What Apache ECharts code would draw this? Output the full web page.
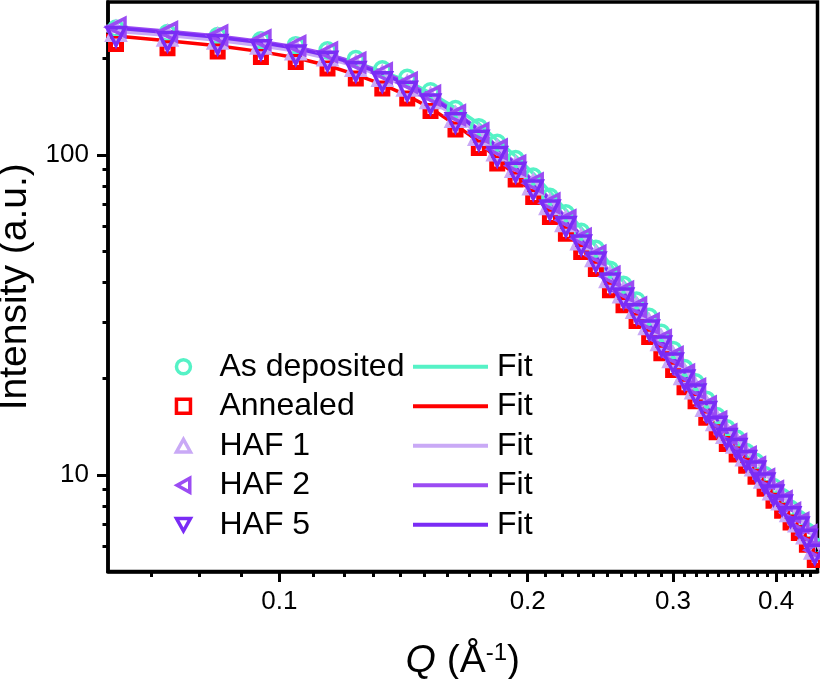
<!DOCTYPE html>
<html><head><meta charset="utf-8">
<script src="https://cdn.jsdelivr.net/npm/echarts@6/dist/echarts.min.js"></script>
<style>html,body{margin:0;padding:0;background:#fff}#c{width:820px;height:679px}</style>
</head><body><div id="c"></div><script>
// ---- data ----
const q = [0.0634, 0.0732, 0.0842, 0.0950, 0.1047, 0.1144, 0.1238, 0.1333, 0.1429, 0.1525,
  0.1635, 0.1745, 0.1837, 0.1934, 0.2031, 0.2128, 0.2225, 0.2322, 0.2419, 0.2516,
  0.2613, 0.2710, 0.2807, 0.2904, 0.3001, 0.3098, 0.3195, 0.3292, 0.3389, 0.3486,
  0.3583, 0.3680, 0.3777, 0.3874, 0.3971, 0.4068, 0.4165, 0.4262, 0.4359, 0.4456];
const asDeposited = [248, 240, 235, 228, 220, 212, 199, 185, 174, 158, 139, 122, 109, 97.0, 85.5, 74.0, 65.7, 57.5, 50.9, 43.8,
  39.3, 35.1, 31.2, 27.8, 24.6, 21.6, 19.5, 17.2, 15.3, 14.0, 13.0, 11.8, 11.0, 10.0, 9.18, 8.54, 7.85, 7.29, 6.68, 5.99];
const annealed = [222, 215, 210, 202, 195, 186, 173, 161, 150, 137, 120, 105, 93.9, 83.8, 73.8, 63.9, 56.7, 49.7, 44.0, 37.8,
  33.9, 30.3, 27.0, 24.0, 21.3, 18.8, 17.0, 15.1, 13.6, 12.5, 11.6, 10.7, 9.89, 9.06, 8.31, 7.74, 7.11, 6.60, 6.06, 5.43];
const haf1 = [243, 235, 230, 222, 213, 204, 189, 176, 164, 150, 131, 115, 103, 91.5, 80.7, 69.9, 61.9, 54.3, 48.1, 41.4,
  37.1, 33.2, 29.5, 26.3, 23.3, 20.6, 18.6, 16.4, 14.8, 13.5, 12.6, 11.5, 10.7, 9.80, 9.00, 8.38, 7.70, 7.15, 6.56, 5.88];
const haf2 = [250, 242, 236, 228, 219, 209, 194, 180, 168, 153, 133, 117, 104, 92.5, 81.5, 70.6, 62.5, 54.8, 48.5, 41.7,
  37.4, 33.4, 29.7, 26.4, 23.4, 20.6, 18.6, 16.4, 14.7, 13.4, 12.5, 11.4, 10.6, 9.72, 8.92, 8.30, 7.63, 7.09, 6.50, 5.83];
const haf5 = [234, 226, 221, 213, 205, 196, 182, 169, 158, 144, 126, 111, 98.8, 88.2, 77.7, 67.3, 59.7, 52.3, 46.3, 39.8,
  35.7, 31.9, 28.4, 25.3, 22.4, 19.8, 17.9, 15.8, 14.2, 13.0, 12.1, 11.1, 10.3, 9.44, 8.66, 8.06, 7.41, 6.88, 6.31, 5.66];

const fitQ = [0.0600, 0.0634, 0.0732, 0.0842, 0.0950, 0.1047, 0.1144, 0.1238, 0.1333, 0.1429, 0.1525,
  0.1635, 0.1745, 0.1837, 0.1934, 0.2031, 0.2128, 0.2225, 0.2322, 0.2419, 0.2516,
  0.2613, 0.2710, 0.2807, 0.2904, 0.3001, 0.3098, 0.3195, 0.3292, 0.3389, 0.3486,
  0.3583, 0.3680, 0.3777, 0.3874, 0.3971, 0.4068, 0.4165, 0.4262, 0.4359, 0.4456];
const fitAsDeposited = [249, 246, 239, 231, 223, 215, 205, 194, 182, 170, 156, 140, 125, 111, 99.0, 87.4, 76.6, 67.2, 59.0, 51.9,
  45.6, 40.2, 35.6, 31.4, 27.9, 24.8, 22.0, 19.6, 17.5, 15.7, 14.0, 12.7, 11.5, 10.5, 9.60, 8.80, 8.10, 7.45, 6.88, 6.37, 5.91];
const fitAnnealed = [237, 235, 227, 219, 210, 201, 190, 178, 166, 153, 140, 124, 110, 97.0, 86.0, 75.7, 66.3, 58.2, 51.1, 44.9,
  39.5, 34.8, 30.8, 27.4, 24.3, 21.7, 19.4, 17.4, 15.6, 14.1, 12.6, 11.5, 10.5, 9.62, 8.83, 8.11, 7.47, 6.89, 6.36, 5.89, 5.46];
const fitHaf1 = [245, 243, 236, 228, 219, 211, 200, 189, 176, 163, 148, 132, 116, 103, 91.3, 80.3, 70.5, 61.8, 54.3, 47.7,
  41.9, 37.0, 32.8, 29.0, 25.9, 23.1, 20.6, 18.4, 16.6, 14.9, 13.4, 12.2, 11.2, 10.2, 9.37, 8.61, 7.93, 7.31, 6.76, 6.25, 5.80];
const fitHaf2 = [253, 251, 243, 235, 226, 217, 206, 194, 181, 168, 153, 136, 120, 106, 93.9, 82.7, 72.5, 63.6, 55.8, 49.0,
  43.0, 37.9, 33.5, 29.7, 26.4, 23.5, 21.0, 18.8, 16.9, 15.2, 13.6, 12.4, 11.3, 10.3, 9.44, 8.66, 7.96, 7.33, 6.77, 6.26, 5.80];
const fitHaf5 = [251, 249, 241, 233, 224, 215, 204, 192, 179, 166, 151, 135, 119, 105, 93.0, 81.9, 71.8, 63.0, 55.3, 48.5,
  42.6, 37.5, 33.2, 29.4, 26.1, 23.3, 20.8, 18.6, 16.7, 15.0, 13.5, 12.3, 11.2, 10.2, 9.35, 8.58, 7.89, 7.26, 6.70, 6.20, 5.74];

const xMajorTicks = [0.1, 0.2, 0.3, 0.4];
const xMinorTicks = [0.07, 0.08, 0.09, 0.11, 0.12, 0.13, 0.14, 0.15, 0.16, 0.17, 0.18, 0.19,
  0.21, 0.22, 0.23, 0.24, 0.25, 0.26, 0.27, 0.28, 0.29, 0.31, 0.32, 0.33, 0.34, 0.35, 0.36, 0.37, 0.38, 0.39,
  0.41, 0.42, 0.43, 0.44];
const yMajorTicks = [10, 100];
const yMinorTicks = [6, 7, 8, 9, 20, 30, 40, 50, 60, 70, 80, 90, 200];

const dataNames = ['As deposited', 'Annealed', 'HAF 1', 'HAF 2', 'HAF 5'];
const fitNames = ['Fit', 'Fit ', 'Fit  ', 'Fit   ', 'Fit    '];

// ---- styling ----
const FONT = 'Liberation Sans, Arial, sans-serif';
const C_GREEN = '#55F2C6', C_RED = '#FF0000', C_L1 = '#C9A9F6', C_L2 = '#9B4CF3', C_L5 = '#7A2CF5';
const XMIN = 0.062, XMAX = 0.449, YMIN = 5, YMAX = 300;
const TRI_UP = 'path://M5,0L10,9L0,9Z';
const TRI_LEFT = 'path://M0,5L9,0L9,10Z';
const TRI_DOWN = 'path://M0,0L10,0L5,9Z';

const pairs = (xs, ys) => xs.map((x, i) => [x, ys[i]]);

function fitSeries(name, ys, color) {
  return { name, type: 'line', data: pairs(fitQ, ys), symbol: 'none', z: 2,
    lineStyle: { color, width: 3.5 }, itemStyle: { color }, clip: true };
}
function dataSeries(name, ys, symbol, color, size, fill, bw) {
  return { name, type: 'scatter', data: pairs(q, ys), symbol, symbolSize: size, z: 3,
    itemStyle: { color: fill, borderColor: color, borderWidth: bw, opacity: 1 }, clip: true };
}

const chart = echarts.init(document.getElementById('c'), null, { renderer: 'canvas' });
const axisBase = { type: 'log', logBase: 10, splitLine: { show: false }, minorTick: { show: false }, minorSplitLine: { show: false } };

chart.setOption({
  animation: false,
  backgroundColor: '#fff',
  grid: { left: 108, right: 2.5, top: 2, bottom: 107.5, show: true, borderColor: '#000', borderWidth: 3.5,
    outerBoundsMode: 'none', containLabel: false },
  xAxis: [
    Object.assign({}, axisBase, { position: 'bottom', min: XMIN, max: XMAX,
      axisLine: { show: true, lineStyle: { color: '#000', width: 3.5 } },
      axisTick: { show: true, inside: false, length: 10.5, lineStyle: { color: '#000', width: 3 }, customValues: xMajorTicks },
      axisLabel: { show: true, customValues: xMajorTicks, formatter: v => String(+v.toFixed(2)),
        fontSize: 26, fontFamily: FONT, color: '#000', margin: 17 },
      name: '{i|Q} (Å{s|-1})', nameLocation: 'middle', nameGap: 70,
      nameTextStyle: { fontSize: 39, fontFamily: FONT, color: '#000',
        rich: { i: { fontSize: 39, fontStyle: 'italic', fontFamily: FONT, color: '#000' },
                s: { fontSize: 24, fontFamily: FONT, color: '#000', verticalAlign: 'top' } } } }),
    Object.assign({}, axisBase, { position: 'bottom', min: XMIN, max: XMAX,
      axisLine: { show: false },
      axisTick: { show: true, inside: false, length: 5.5, lineStyle: { color: '#000', width: 3 }, customValues: xMinorTicks },
      axisLabel: { show: false } })
  ],
  yAxis: [
    Object.assign({}, axisBase, { position: 'left', min: YMIN, max: YMAX,
      axisLine: { show: true, lineStyle: { color: '#000', width: 3.5 } },
      axisTick: { show: true, inside: false, length: 11, lineStyle: { color: '#000', width: 3 }, customValues: yMajorTicks },
      axisLabel: { show: true, customValues: yMajorTicks, formatter: v => String(Math.round(v)),
        fontSize: 26, fontFamily: FONT, color: '#000', margin: 19 },
      name: 'Intensity (a.u.)', nameLocation: 'middle', nameGap: 64,
      nameTextStyle: { fontSize: 39, fontFamily: FONT, color: '#000' } }),
    Object.assign({}, axisBase, { position: 'left', min: YMIN, max: YMAX,
      axisLine: { show: false },
      axisTick: { show: true, inside: false, length: 5.5, lineStyle: { color: '#000', width: 3 }, customValues: yMinorTicks },
      axisLabel: { show: false } })
  ],
  legend: [
    { data: dataNames, orient: 'vertical', left: 174.7, top: 350.7, padding: 0, itemGap: 7.5,
      itemWidth: 14, itemHeight: 14, selectedMode: false,
      itemStyle: { borderWidth: 3.5 },
      textStyle: { fontSize: 32, lineHeight: 32, fontFamily: FONT, color: '#000', padding: [0, 0, 0, 24] } },
    { data: fitNames, orient: 'vertical', left: 413, top: 350.7, padding: 0, itemGap: 7.5,
      itemWidth: 75, itemHeight: 4, icon: 'rect', selectedMode: false,
      itemStyle: { borderWidth: 0 },
      formatter: n => n.trim(),
      textStyle: { fontSize: 32, lineHeight: 32, fontFamily: FONT, color: '#000', padding: [0, 0, 0, 4] } }
  ],
  series: [
    fitSeries(fitNames[0], fitAsDeposited, C_GREEN),
    fitSeries(fitNames[1], fitAnnealed, C_RED),
    fitSeries(fitNames[2], fitHaf1, C_L1),
    fitSeries(fitNames[3], fitHaf2, C_L2),
    fitSeries(fitNames[4], fitHaf5, C_L5),
    dataSeries(dataNames[0], asDeposited, 'circle', C_GREEN, 15, 'rgba(255,255,255,0)', 3.5),
    dataSeries(dataNames[1], annealed, 'rect', C_RED, 11, '#ffffff', 5),
    dataSeries(dataNames[2], haf1, TRI_UP, C_L1, 18, 'rgba(255,255,255,0)', 3.5),
    dataSeries(dataNames[3], haf2, TRI_LEFT, C_L2, 18, 'rgba(255,255,255,0)', 3.5),
    dataSeries(dataNames[4], haf5, TRI_DOWN, C_L5, 18, 'rgba(255,255,255,0)', 3.5)
  ]
});
</script></body></html>
